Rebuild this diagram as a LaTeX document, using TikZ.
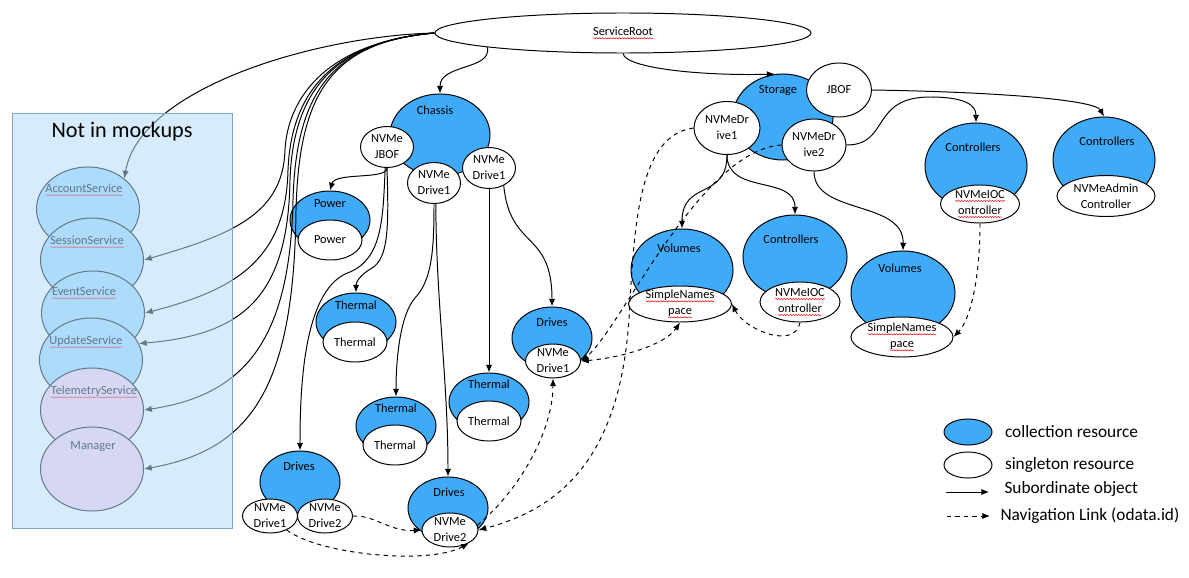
\documentclass[tikz,border=0pt]{standalone}
\usepackage{fontspec}
\setmainfont{Carlito}
\usetikzlibrary{shapes.geometric,positioning,arrows.meta,decorations.pathmorphing}
\definecolor{resblue}{RGB}{62,170,248}
\definecolor{mockfill}{RGB}{180,220,249}
\definecolor{mockline}{RGB}{127,165,201}
\definecolor{svcblue}{RGB}{164,218,255}
\definecolor{svclav}{RGB}{255,211,238}
\newcommand{\spell}[1]{\tikz[baseline=(sw.base)]{\node[shape=rectangle, draw=none, fill=none, inner sep=0pt, outer sep=0pt, anchor=base] (sw) {#1};
  \draw[red, line width=0.35pt, decorate, decoration={snake, amplitude=0.4pt, segment length=2pt}] ([yshift=-2pt]sw.base west) -- ([yshift=-2pt]sw.base east);}}
\newcommand{\nfont}{\fontsize{8.8}{11.4}\selectfont}
\tikzset{coll/.style={ellipse, draw, fill=resblue, inner sep=0pt},
  sgl/.style={ellipse, draw, fill=white, inner sep=0pt},
  svc/.style={ellipse, draw, inner sep=0pt, minimum width=2.575cm, minimum height=2.1cm},
  ttl/.style={font=\nfont, inner sep=0pt},
  lgtxt/.style={font=\fontsize{12.3}{14}\selectfont, inner sep=0pt, anchor=west},
  every label/.style={font=\nfont, align=center, inner sep=0pt}}

\begin{document}
\begin{tikzpicture}[x=0.025cm, y=-0.025cm, line width=0.7pt, >={Latex[length=5.5pt,width=4.5pt]},
    sub/.style={draw,->}, nav/.style={draw,dashed,->}]
    \useasboundingbox (0,0) rectangle (1189,578);

    % not in mockups
    \node[svc, fill=svcblue] (acct) at (88,209) {};
    \node[ttl] (acctT) at (84,190) {\spell{AccountService}};
    \node[svc, fill=svcblue] (sess) at (92,260) {};
    \node[ttl] (sessT) at (87,242) {\spell{SessionService}};
    \node[svc, fill=svcblue] (evt) at (93,313) {};
    \node[ttl] (evtT) at (84,293) {\spell{EventService}};
    \node[svc, fill=svcblue] (upd) at (91,360) {};
    \node[ttl] (updT) at (86,342) {\spell{UpdateService}};
    \node[svc, fill=svclav] (tele) at (92,410) {};
    \node[ttl] (teleT) at (94,392) {\spell{TelemetryService}};
    \node[svc, fill=svclav] (mgr) at (92,469) {};
    \node[ttl] (mgrT) at (93,447) {Manager};

    \node[sgl, minimum width=9.4cm, minimum height=1cm, label={center:\spell{ServiceRoot}}] (root) at (623,33) {};

    % chassis
    \node[coll, minimum width=2.5cm, minimum height=2.05cm] (chassis) at (440,135) {};
    \node[ttl] (chassisT) at (435,110) {Chassis};
    \node[sgl, minimum width=1.325cm, minimum height=1.025cm, label={center:NVMe\\JBOF}] (cjbof) at (387,147) {};
    \node[sgl, minimum width=1.325cm, minimum height=1.025cm, label={center:NVMe\\Drive1}] (cdrA) at (434,183) {};
    \node[sgl, minimum width=1.325cm, minimum height=1.025cm, label={center:NVMe\\Drive1}] (cdrB) at (489,168) {};

    \node[coll, minimum width=2cm, minimum height=1.45cm] (power) at (330,220) {};
    \node[ttl] (powerT) at (330,204) {Power};
    \node[sgl, minimum width=1.6cm, minimum height=1cm, label={center:Power}] (powerS) at (330,240) {};

    \node[coll, minimum width=2cm, minimum height=1.45cm] (th1) at (356,322) {};
    \node[ttl] (th1T) at (356,305) {Thermal};
    \node[sgl, minimum width=1.6cm, minimum height=1cm, label={center:Thermal}] (th1S) at (355,342) {};

    \node[coll, minimum width=2cm, minimum height=1.45cm] (th2) at (396,426) {};
    \node[ttl] (th2T) at (396,408) {Thermal};
    \node[sgl, minimum width=1.6cm, minimum height=1cm, label={center:Thermal}] (th2S) at (395,445) {};

    \node[coll, minimum width=2cm, minimum height=1.45cm] (th3) at (489,402) {};
    \node[ttl] (th3T) at (489,384) {Thermal};
    \node[sgl, minimum width=1.6cm, minimum height=1cm, label={center:Thermal}] (th3S) at (489,421) {};

    \node[coll, minimum width=2cm, minimum height=1.55cm] (drivesL) at (300,482) {};
    \node[ttl] (drivesLT) at (299,466) {Drives};
    \node[sgl, minimum width=1.375cm, minimum height=0.85cm, label={center:NVMe\\Drive1}] (dlA) at (270,516) {};
    \node[sgl, minimum width=1.375cm, minimum height=0.85cm, label={center:NVMe\\Drive2}] (dlB) at (325,516) {};

    \node[coll, minimum width=2cm, minimum height=1.55cm] (drivesM) at (448,508) {};
    \node[ttl] (drivesMT) at (449,492) {Drives};
    \node[sgl, minimum width=1.4cm, minimum height=0.85cm, label={center:NVMe\\Drive2}] (dmA) at (450,530) {};

    \node[coll, minimum width=2cm, minimum height=1.55cm] (drivesR) at (552,338) {};
    \node[ttl] (drivesRT) at (552,322) {Drives};
    \node[sgl, minimum width=1.375cm, minimum height=0.85cm, label={center:NVMe\\Drive1}] (drA) at (553,361) {};

    % storage
    \node[coll, minimum width=2.5cm, minimum height=2.15cm] (storage) at (783,117) {};
    \node[ttl] (storageT) at (778,91) {Storage};
    \node[sgl, minimum width=1.625cm, minimum height=1.35cm, label={center:JBOF}] (sjbof) at (839,90) {};
    \node[sgl, minimum width=1.65cm, minimum height=1.325cm, label={center:NVMeDr\\ive1}] (sdr1) at (727,128) {};
    \node[sgl, minimum width=1.6cm, minimum height=1.3cm, label={center:NVMeDr\\ive2}] (sdr2) at (814,145) {};

    \node[coll, minimum width=2.55cm, minimum height=2.05cm] (volL) at (682,270) {};
    \node[ttl] (volLT) at (679,248) {Volumes};
    \node[sgl, minimum width=2.575cm, minimum height=0.9cm, label={center:\spell{SimpleNames}\\\spell{pace}}] (vlS) at (680,304) {};

    \node[coll, minimum width=2.6cm, minimum height=2.1cm] (ctrlM) at (795,257) {};
    \node[ttl] (ctrlMT) at (791,239) {Controllers};
    \node[sgl, minimum width=2cm, minimum height=1cm, label={center:\spell{NVMeIOC}\\\spell{ontroller}}] (cmS) at (800,302) {};

    \node[coll, minimum width=2.6cm, minimum height=2.1cm] (volR) at (903,293) {};
    \node[ttl] (volRT) at (900,268) {Volumes};
    \node[sgl, minimum width=2.55cm, minimum height=1cm, label={center:\spell{SimpleNames}\\\spell{pace}}] (vrS) at (902,337) {};

    \node[coll, minimum width=2.55cm, minimum height=2.15cm] (ctrl1) at (976,166) {};
    \node[ttl] (ctrl1T) at (973,147) {Controllers};
    \node[sgl, minimum width=1.975cm, minimum height=0.95cm, label={center:\spell{NVMeIOC}\\\spell{ontroller}}] (c1S) at (980,204) {};

    \node[coll, minimum width=2.55cm, minimum height=2.15cm] (ctrl2) at (1104,160) {};
    \node[ttl] (ctrl2T) at (1107,141) {Controllers};
    \node[sgl, minimum width=2.45cm, minimum height=1.025cm, label={center:NVMeAdmin\\Controller}] (c2S) at (1106,196) {};

    % subordinate objects
    \draw[sub] (root.186) .. controls (492,70) and (440,64) .. (chassis.north);
    \draw[sub] (root.south) .. controls (625,68) and (700,76) .. (storage.101);
    \draw[sub] (sjbof.east) .. controls (1000,92) and (1095,100) .. (ctrl2.north);
    \draw[sub] (sdr2.east) .. controls (890,145) and (870,97) .. (930,97) .. controls (965,97) and (976,105) .. (ctrl1.north);
    \draw[sub] (sdr2.south) .. controls (814,215) and (904,200) .. (volR.north);
    \draw[sub] (sdr1.south) .. controls (727,200) and (682,180) .. (volL.north);
    \draw[sub] (sdr1.south) .. controls (727,195) and (795,175) .. (ctrlM.north);
    \draw[sub] (cjbof.south) .. controls (387,180) and (335,172) .. (power.north);
    \draw[sub] (cjbof.south) .. controls (389,230) and (388,258) .. (372,268) .. controls (360,275) and (356,282) .. (th1.north);
    \draw[sub] (cjbof.265) .. controls (383,220) and (382,258) .. (350,272) .. controls (305,287) and (300,380) .. (drivesL.north);
    \draw[sub] (cdrA.south) .. controls (434,250) and (432,280) .. (415,298) .. controls (400,315) and (396,360) .. (th2.north);
    \draw[sub] (cdrA.275) .. controls (436,300) and (448,380) .. (drivesM.north);
    \draw[sub] (cdrB.south) -- (th3.north);
    \draw[sub] (cdrB.-50) .. controls (510,250) and (552,230) .. (drivesR.north);

    \draw[sub] (root.west) .. controls (315,36) and (140,88) .. (acct.40);
    \draw[sub] (root.west) .. controls (330,42) and (288,95) .. (285,150) .. controls (283,215) and (230,235) .. (sess.east);
    \draw[sub] (root.west) .. controls (330,42) and (291,95) .. (288,170) .. controls (286,260) and (235,290) .. (evt.east);
    \draw[sub] (root.west) .. controls (330,42) and (293,95) .. (290,180) .. controls (288,300) and (240,335) .. (upd.19);
    \draw[sub] (root.west) .. controls (330,42) and (296,95) .. (293,200) .. controls (290,340) and (245,395) .. (tele.east);
    \draw[sub] (root.west) .. controls (330,42) and (299,95) .. (296,210) .. controls (294,390) and (250,450) .. (mgr.east);

    % navigation links
    \draw[nav] (dlB.east) .. controls (375,515) and (390,532) .. (dmA.west);
    \draw[nav] (dlA.-40) .. controls (320,555) and (430,565) .. (dmA.-35);
    \draw[nav] (sdr1.west) .. controls (640,135) and (635,220) .. (630,300) .. controls (625,440) and (575,505) .. (dmA.east);
    \draw[nav] (dmA.10) .. controls (520,490) and (553,430) .. (drA.south);
    \draw[nav] (sdr2.west) .. controls (700,150) and (620,330) .. (drA.east);
    \draw[nav,<->] (drA.east) .. controls (620,358) and (665,345) .. (vlS.south);
    \draw[nav] (cmS.south) .. controls (795,350) and (745,330) .. (vlS.east);
    \draw[nav] (c1S.south) .. controls (980,280) and (970,320) .. (vrS.east);

    % box over the services
    \node[draw=mockline, fill=mockfill, fill opacity=0.55, minimum width=5.475cm, minimum height=10.35cm, inner sep=0pt] (mock) at (122.5,321) {};
    \node[font=\fontsize{15.8}{18}\selectfont, inner sep=0pt] (mockT) at (122,132) {Not in mockups};

    % legend
    \node[coll, minimum width=1.2cm, minimum height=0.65cm] (lgColl) at (968,432) {};
    \node[sgl, minimum width=1.2cm, minimum height=0.65cm] (lgSgl) at (968,465) {};
    \node[lgtxt, right=0.3cm of lgColl] (lgCollT) {collection resource};
    \node[lgtxt, right=0.3cm of lgSgl] (lgSglT) {singleton resource};
    \coordinate (lgS1) at (946,492);
    \coordinate (lgS2) at (989,492);
    \coordinate (lgN1) at (947,516);
    \coordinate (lgN2) at (990,516);
    \draw[sub] (lgS1) -- (lgS2);
    \draw[nav] (lgN1) -- (lgN2);
    \node[lgtxt] (lgSubT) at (1004,489) {Subordinate object};
    \node[lgtxt] (lgNavT) at (1000,516) {Navigation Link (odata.id)};
\end{tikzpicture}
\end{document}
